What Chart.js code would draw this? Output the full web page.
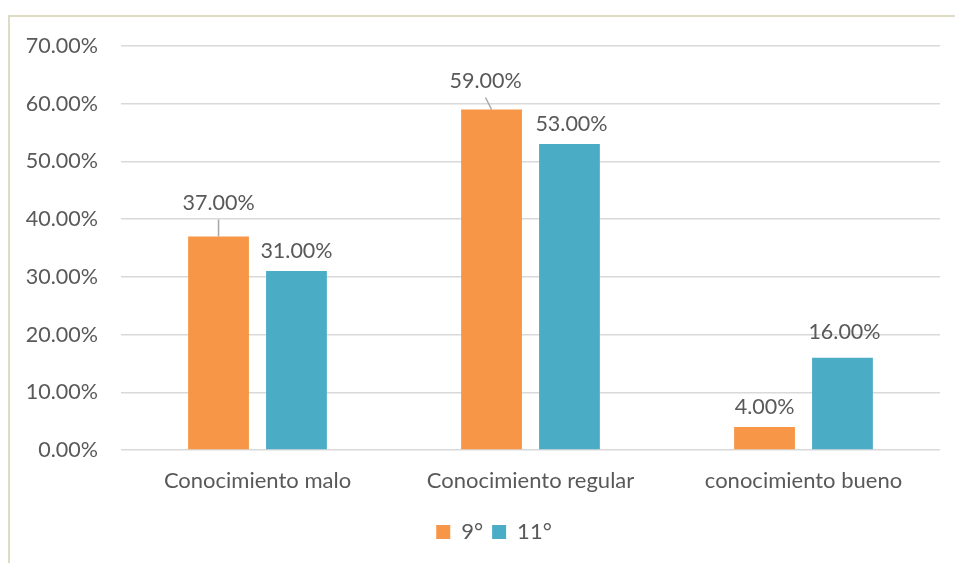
<!DOCTYPE html>
<html>
<head>
<meta charset="utf-8">
<script src="https://cdn.jsdelivr.net/npm/chart.js@4/dist/chart.umd.min.js"></script>
<style>
  html, body { margin: 0; padding: 0; background: #ffffff; }
  #wrap { position: relative; width: 955px; height: 563px; }
  canvas { display: block; }
</style>
</head>
<body>
<div id="wrap"><canvas id="chart" width="955" height="563"></canvas></div>
<script>
// Datos del gráfico
const categorias = ['Conocimiento malo', 'Conocimiento regular', 'conocimiento bueno'];
const series = ['9°', '11°'];
const valores9 = [37, 59, 4];
const valores11 = [31, 53, 16];
const ticksY = [0, 10, 20, 30, 40, 50, 60, 70];

const TEXT = '#595959';
const FONT = 'Lato, "Open Sans", sans-serif';

// Desplazamiento de cada etiqueta respecto a la parte superior de su barra,
// y si lleva línea guía hacia la barra.
const etiquetas = [
  [{dx: 0, dy: -33, guia: true}, {dx: -6, dy: -28, guia: true}, {dx: 0, dy: -20, guia: false}],
  [{dx: 0, dy: -20, guia: false}, {dx: 2, dy: -20, guia: false}, {dx: 2, dy: -26, guia: false}]
];

const marco = {
  id: 'marco',
  beforeDraw(chart) {
    const ctx = chart.ctx;
    ctx.save();
    ctx.strokeStyle = '#dedbc6';
    ctx.lineWidth = 2;
    ctx.beginPath();
    ctx.moveTo(9, 563);
    ctx.lineTo(9, 16);
    ctx.lineTo(955, 16);
    ctx.stroke();
    ctx.restore();
    // leyenda centrada un poco a la derecha del centro del lienzo
    const lg = chart.legend;
    if (lg) {
      const shift = 494 - (lg.left + lg.right) / 2;
      lg.left += shift;
      lg.right += shift;
    }
  }
};

const valoresEnBarras = {
  id: 'valoresEnBarras',
  afterDatasetsDraw(chart) {
    const ctx = chart.ctx;
    ctx.save();
    ctx.font = '21.5px ' + FONT;
    ctx.fillStyle = TEXT;
    ctx.textAlign = 'center';
    ctx.textBaseline = 'middle';
    chart.data.datasets.forEach((ds, di) => {
      chart.getDatasetMeta(di).data.forEach((bar, i) => {
        const o = etiquetas[di][i];
        const x = bar.x + o.dx;
        const y = bar.y + o.dy;
        ctx.fillText(ds.data[i].toFixed(2) + '%', x, y);
        if (o.guia) {
          ctx.strokeStyle = '#a6a6a6';
          ctx.lineWidth = 1.5;
          ctx.beginPath();
          ctx.moveTo(x, y + 16);
          ctx.lineTo(bar.x, bar.y);
          ctx.stroke();
        }
      });
    });
    ctx.restore();
  }
};

new Chart(document.getElementById('chart'), {
  type: 'bar',
  data: {
    labels: categorias,
    datasets: [
      { label: series[0], data: valores9, backgroundColor: '#f79646',
        categoryPercentage: 0.571, barPercentage: 0.78 },
      { label: series[1], data: valores11, backgroundColor: '#4bacc6',
        categoryPercentage: 0.571, barPercentage: 0.78 }
    ]
  },
  options: {
    responsive: false,
    animation: false,
    events: [],
    layout: { padding: { left: 0, right: 15, top: 46, bottom: 10 } },
    plugins: {
      legend: {
        position: 'bottom',
        labels: {
          font: { family: FONT, size: 22 },
          color: TEXT,
          boxWidth: 14,
          boxHeight: 14,
          padding: 9
        }
      },
      tooltip: { enabled: false }
    },
    scales: {
      x: {
        grid: { display: false, drawTicks: false },
        border: { display: false },
        ticks: { font: { family: FONT, size: 22 }, color: TEXT, padding: 18 },
        afterFit(s) { s.height = 62; }
      },
      y: {
        min: 0,
        max: 70,
        afterBuildTicks(s) { s.ticks = ticksY.map(v => ({ value: v })); },
        grid: { color: '#d9d9d9', lineWidth: 1.5, drawTicks: false },
        border: { display: false },
        ticks: {
          font: { family: FONT, size: 21.5 },
          color: TEXT,
          padding: 23,
          callback: v => v.toFixed(2) + '%'
        },
        afterFit(s) { s.width = 121; }
      }
    }
  },
  plugins: [marco, valoresEnBarras]
});
</script>
</body>
</html>
